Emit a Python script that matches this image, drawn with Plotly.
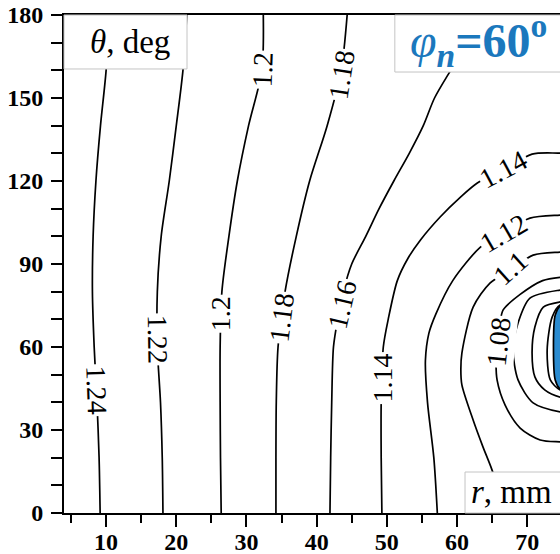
import plotly.graph_objects as go

FONT = "Liberation Serif"

# ---- contour lines: r (mm) and theta (deg) ----
c124_r = [9.15, 9.0, 8.7, 8.3, 8.05, 8.15, 8.55, 9.2, 10.0, 10.4]
c124_t = [0, 20, 40, 60, 80, 100, 120, 140, 160, 180]

c122_r = [18.1, 18.0, 17.75, 17.3, 17.3, 17.85, 19.0, 20.0, 20.95, 21.5]
c122_t = [0, 20, 40, 60, 80, 100, 120, 140, 160, 180]

c120_r = [26.4, 26.3, 26.25, 26.25, 26.5, 27.5, 28.7, 30.3, 32.2, 32.4]
c120_t = [0, 20, 40, 60, 80, 100, 120, 140, 160, 180]

c118_r = [34.2, 34.2, 34.25, 34.5, 35.5, 37.1, 39.0, 41.5, 43.5, 44.35]
c118_t = [0, 20, 40, 60, 80, 100, 120, 140, 160, 180]

c116_r = [41.9, 42.0, 42.15, 42.4, 43.0, 43.8, 45.0, 47.0, 48.9, 51.0, 53.2, 55.2, 56.8, 59.1, 61.5, 64.0]
c116_t = [0, 20, 40, 60, 70, 80, 90, 100, 110, 120, 130, 140, 150, 160, 170, 180]

c114_r = [49.3, 49.2, 49.2, 49.5, 50.2, 51.5, 53.0, 54.8, 57.6, 60.5, 62.9, 66.6, 70.7, 74.7, 78.0]
c114_t = [0, 20, 40, 60, 70, 84, 92, 98.7, 107, 114.2, 119.3, 124, 129.7, 130.1, 130.3]

c112_r = [57.2, 56.7, 55.8, 55.5, 56.0, 57.0, 59.4, 63.3, 66.6, 70.4, 74.7, 78.0]
c112_t = [0, 20, 40, 55, 65, 72, 84, 96, 101.2, 106.6, 107.7, 108]

c110_r = [66.9, 65.0, 63.7, 62.3, 60.7, 60.55, 60.7, 62.3, 64.7, 67.6, 70.85, 74.7, 78.0]
c110_t = [0, 15.5, 23.9, 33.6, 46.3, 52, 57.8, 74.4, 83.1, 87.8, 93.2, 94.3, 94.6]

c108_r = [78.0, 74.7, 71.85, 69.0, 66.86, 65.72, 65.58, 65.86, 66.15, 66.58, 69.0, 72.2, 74.7, 78.0]
c108_t = [25.5, 25.7, 26.4, 30.7, 39, 48, 55.3, 62.2, 69, 73.4, 79.0, 84.0, 85.2, 85.5]

c106_r = [77.0, 74.7, 70.4, 68.7, 68.0, 68.7, 70.85, 74.7, 77.0]
c106_t = [81.0, 80.6, 77.7, 68.7, 58.9, 48.1, 39.8, 36.5, 36.0]

c104_r = [77.0, 74.7, 72.3, 71.1, 70.7, 71.1, 72.5, 74.7, 77.0]
c104_t = [76.6, 76.3, 74.4, 67.2, 57.8, 49.2, 44.5, 41.9, 41.5]

c102_r = [77.0, 74.7, 73.56, 72.85, 73.3, 74.7, 77.0]
c102_t = [75.5, 75.2, 70.8, 58.9, 48.1, 44.5, 44.2]

core_r = [77.0, 74.8, 74.0, 73.75, 74.0, 74.8, 77.0]
core_t = [75.0, 75.0, 71.6, 59.6, 48.1, 44.6, 44.6]

# ---- contour labels: text, r, theta ----
lab_text = ["1.24", "1.22", "1.2", "1.2", "1.18", "1.18", "1.16", "1.14", "1.14", "1.12", "1.1", "1.08"]
lab_r = [8.58, 17.27, 26.25, 32.23, 35.08, 43.49, 43.6, 49.4, 66.58, 66.58, 67.58, 65.86]
lab_t = [44.5, 62.9, 71.9, 160.1, 70.5, 158.3, 75.5, 48.8, 124.0, 101.2, 88.5, 61.8]
lab_angle = [88, 89, -90, -88, -83, -81, -77, -90, -28, -30, -42, -84]

# ---- axis ticks ----
x_ticks = [10, 20, 30, 40, 50, 60, 70]
x_minor = [5, 15, 25, 35, 45, 55, 65, 75]
y_ticks = [0, 30, 60, 90, 120, 150, 180]

contours = [
    (c124_r, c124_t), (c122_r, c122_t), (c120_r, c120_t), (c118_r, c118_t),
    (c116_r, c116_t), (c114_r, c114_t), (c112_r, c112_t), (c110_r, c110_t),
    (c108_r, c108_t), (c106_r, c106_t), (c104_r, c104_t), (c102_r, c102_t),
]

fig = go.Figure()
for r, t in contours:
    fig.add_trace(go.Scatter(
        x=r, y=t, mode="lines",
        line=dict(color="black", width=1.7, shape="spline", smoothing=0.8),
        hoverinfo="skip", showlegend=False))

fig.add_trace(go.Scatter(
    x=core_r, y=core_t, mode="lines", fill="toself", fillcolor="#2a8bd0",
    line=dict(color="black", width=1.7, shape="spline", smoothing=0.8),
    hoverinfo="skip", showlegend=False))

annotations = []
for txt, r, t, a in zip(lab_text, lab_r, lab_t, lab_angle):
    annotations.append(dict(
        x=r, y=t, xref="x", yref="y", text=txt, textangle=a, showarrow=False,
        xanchor="center", yanchor="middle",
        font=dict(family=FONT, size=28, color="black"),
        bgcolor="white", borderpad=1))

box_line = dict(color="#c4c4c4", width=1)
shapes = [
    dict(type="rect", xref="paper", yref="paper", x0=0.0, x1=0.248, y0=0.8916, y1=1.0,
         fillcolor="white", line=box_line, layer="above"),
    dict(type="rect", xref="paper", yref="paper", x0=0.667, x1=1.05, y0=0.8855, y1=1.0,
         fillcolor="white", line=box_line, layer="above"),
    dict(type="rect", xref="paper", yref="paper", x0=0.8085, x1=1.05, y0=0.0, y1=0.0823,
         fillcolor="white", line=box_line, layer="above"),
]

annotations += [
    dict(x=0.133, y=0.946, xref="paper", yref="paper", showarrow=False,
         xanchor="center", yanchor="middle",
         text="<i>θ</i>, deg", font=dict(family=FONT, size=33, color="black")),
    dict(x=0.835, y=0.948, xref="paper", yref="paper", showarrow=False,
         xanchor="center", yanchor="middle",
         text="<i>φ</i><sub><b><i>n</i></b></sub><b>=60</b><sup><b>o</b></sup>",
         font=dict(family=FONT, size=48, color="#1b78bd")),
    dict(x=0.903, y=0.042, xref="paper", yref="paper", showarrow=False,
         xanchor="center", yanchor="middle",
         text="<i>r</i>, mm", font=dict(family=FONT, size=33, color="black")),
]

fig.update_layout(
    width=560, height=554,
    margin=dict(l=64, r=0, t=15, b=41, autoexpand=False),
    paper_bgcolor="white", plot_bgcolor="white",
    shapes=shapes, annotations=annotations,
    xaxis=dict(
        range=[4, 74.68], tickvals=x_ticks, ticks="outside", ticklen=12, tickwidth=2,
        tickcolor="black", showline=True, linecolor="black", linewidth=2, mirror=True,
        showgrid=False, zeroline=False, automargin=False, ticklabelstandoff=-6,
        tickfont=dict(family=FONT, size=24, color="black", weight="bold"),
        minor=dict(tickvals=x_minor, ticks="outside", ticklen=8, tickwidth=2,
                   tickcolor="black", showgrid=False)),
    yaxis=dict(
        range=[0, 180], tickvals=y_ticks, ticks="outside", ticklen=11, tickwidth=2,
        tickcolor="black", showline=True, linecolor="black", linewidth=2,
        showgrid=False, zeroline=False, automargin=False, ticklabelstandoff=3,
        ticklabeloverflow="allow",
        tickfont=dict(family=FONT, size=24, color="black", weight="bold"),
        minor=dict(dtick=10, ticks="outside", ticklen=11, tickwidth=2,
                   tickcolor="black", showgrid=False)),
)

# remove the page's default body margin so the 560x554 figure fills the window exactly
fig.write_html("out.html", config={"displayModeBar": False},
               post_script="document.body.style.margin = '0px';")
